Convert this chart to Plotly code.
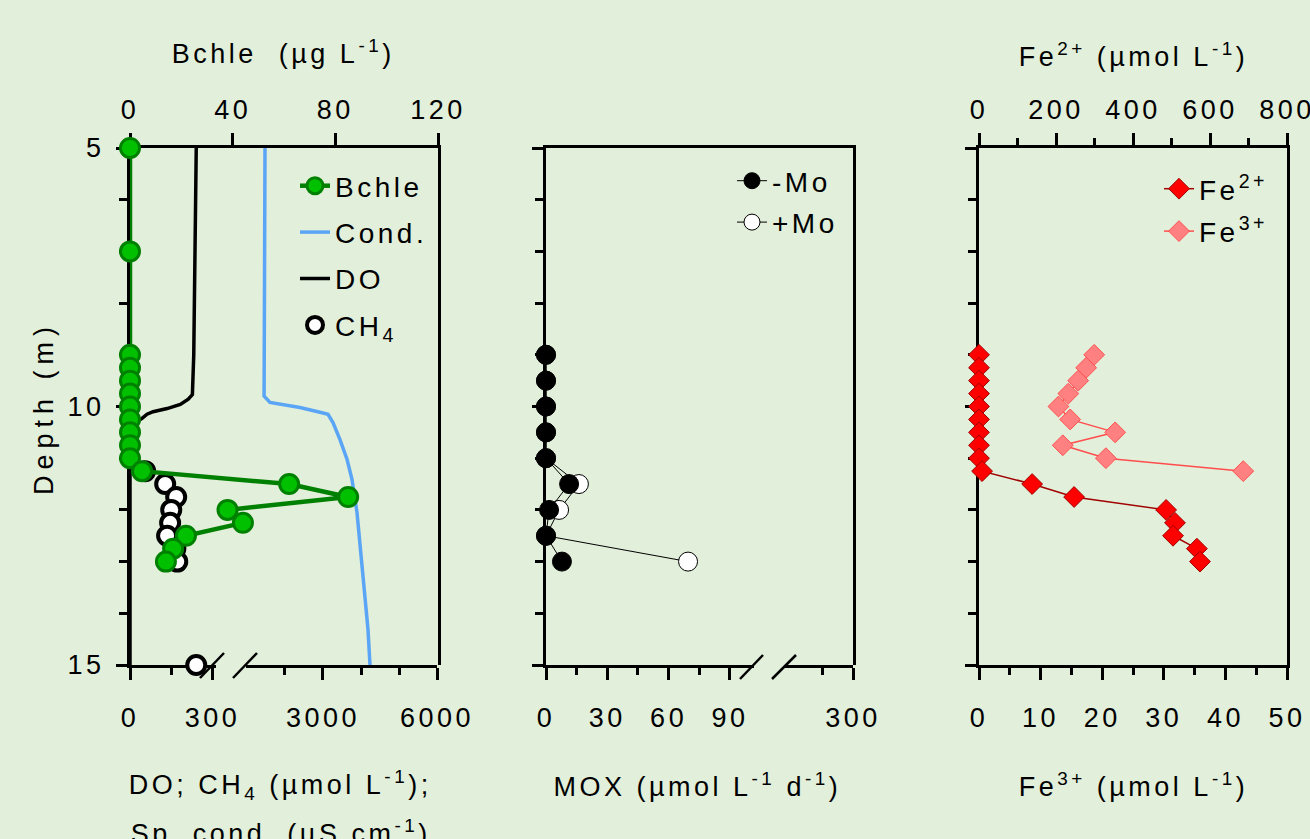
import plotly.graph_objects as go

W, H = 1310, 839
BG = "#e2efda"
FONT = "Liberation Sans, Arial, sans-serif"

# ---------------- Panel 1 data ----------------
bchle_depth = [5.0, 7.0, 9.0, 9.25, 9.5, 9.75, 10.0, 10.25, 10.5, 10.75, 11.0,
               11.25, 11.5, 11.75, 12.0, 12.25, 12.5, 12.75, 13.0]
bchle = [0, 0, 0, 0, 0, 0, 0, 0, 0, 0, 0,
         4.7, 62, 85, 38, 44, 21.8, 16.8, 14]

ch4_depth = [11.25, 11.5, 11.75, 12.0, 12.25, 12.5, 12.75, 13.0, 15.0]
ch4 = [55, 128, 168, 150, 146, 135, 165, 172, 241]

do_depth = [5.0, 7.0, 9.0, 9.77, 9.86, 9.96, 10.04, 10.10, 10.15, 10.23, 10.35, 10.5, 15.0]
do = [241, 238, 232, 227, 212, 183, 135, 84, 62, 44, 7, 0, 0]

cond_depth = [5.0, 9.5, 9.8, 9.92, 10.02, 10.12, 10.15, 10.31, 10.64, 11.02,
              11.41, 12.05, 12.70, 13.34, 13.86, 14.31, 15.0]
cond = [1474, 1430, 1450, 1605, 2395, 2974, 3132, 3263, 3447, 3632,
        3763, 3895, 3974, 4053, 4132, 4184, 4237]

# ---------------- Panel 2 data ----------------
mox_depth = [9.0, 9.5, 10.0, 10.5, 11.0, 11.5, 12.0, 12.5, 13.0]
mox_minus = [0, 0, 0, 0, 0, 11.3, 1.5, 0, 7.8]
mox_plus = [0, 0, 0, 0, 0, 16.1, 6.4, 0, 69.5]

# ---------------- Panel 3 data ----------------
fe2_depth = [9.0, 9.25, 9.5, 9.75, 10.0, 10.25, 10.5, 10.75, 11.0,
             11.25, 11.5, 11.75, 12.0, 12.25, 12.5, 12.75, 13.0]
fe2 = [0, 0, 0, 0, 0, 0, 0, 0, 0, 8, 138, 247, 486, 509, 504, 566, 574]
fe3_depth = [9.0, 9.25, 9.5, 9.75, 10.0, 10.25, 10.5, 10.75, 11.0, 11.25]
fe3 = [18.7, 17.4, 16.1, 14.5, 12.9, 14.8, 22.1, 13.6, 20.6, 42.9]

# tick labels
depth_ticks = [5, 10, 15]
bchle_ticks = [0, 40, 80, 120]
do_ticks = [0, 300]
cond_ticks = [3000, 6000]
mox_ticks = [0, 30, 60, 90]
mox_hi_ticks = [300]
fe2_ticks = [0, 200, 400, 600, 800]
fe3_ticks = [0, 10, 20, 30, 40, 50]


def px(x):
    return x / W


def py(y):
    return 1 - y / H


TOP, BOT = 148, 665
ydom = [py(BOT), py(TOP)]

tickfont = dict(family=FONT, size=27, color="black")


def xax(**kw):
    d = dict(showline=True, linecolor="black", linewidth=3, ticks="outside",
             tickcolor="black", tickwidth=2.5, ticklen=12, showgrid=False,
             zeroline=False, tickfont=tickfont, layer="below traces",
             fixedrange=True, ticklabelstandoff=15)
    d.update(kw)
    return d


def minor(**kw):
    d = dict(ticks="outside", ticklen=7, tickwidth=2.5, tickcolor="black", showgrid=False)
    d.update(kw)
    return d


fig = go.Figure()

# ---- panel 1 traces (DO/CH4 on x, cond on x2, Bchle on x3 drawn on top)
fig.add_trace(go.Scatter(x=do, y=do_depth, mode="lines", name="DO",
                         line=dict(color="black", width=3.5), xaxis="x", yaxis="y",
                         legend="legend", legendrank=3, legendgroup="do",
                         cliponaxis=False))
fig.add_trace(go.Scatter(x=ch4, y=ch4_depth, mode="markers", name="CH<sub>4</sub>",
                         marker=dict(symbol="circle", size=18, color="white",
                                     line=dict(color="black", width=4)),
                         xaxis="x", yaxis="y", legend="legend", legendrank=4,
                         legendgroup="ch4", cliponaxis=False))
fig.add_trace(go.Scatter(x=cond, y=cond_depth, mode="lines", name="Cond.",
                         line=dict(color="#5aa5f5", width=3.5), xaxis="x2", yaxis="y",
                         legend="legend", legendrank=2, legendgroup="cond",
                         cliponaxis=False))
fig.add_trace(go.Scatter(x=bchle, y=bchle_depth, mode="lines+markers", name="Bchle",
                         line=dict(color="#008000", width=4.5),
                         marker=dict(symbol="circle", size=19, color="#00c000",
                                     line=dict(color="#008000", width=3)),
                         xaxis="x3", yaxis="y", legend="legend", legendrank=1,
                         legendgroup="bchle", cliponaxis=False))

# ---- panel 2 traces (+Mo drawn first so -Mo markers sit on top)
fig.add_trace(go.Scatter(x=mox_plus, y=mox_depth, mode="lines+markers", name="+Mo",
                         line=dict(color="black", width=1),
                         marker=dict(symbol="circle", size=19, color="white",
                                     line=dict(color="black", width=1)),
                         xaxis="x4", yaxis="y2", legend="legend2", legendrank=2,
                         legendgroup="m2", cliponaxis=False))
fig.add_trace(go.Scatter(x=mox_minus, y=mox_depth, mode="lines+markers", name="-Mo",
                         line=dict(color="black", width=1),
                         marker=dict(symbol="circle", size=19, color="black",
                                     line=dict(color="black", width=1)),
                         xaxis="x4", yaxis="y2", legend="legend2", legendrank=1,
                         legendgroup="m1", cliponaxis=False))
for ax in ["x5", "x6"]:
    fig.add_trace(go.Scatter(x=[None], y=[None], xaxis=ax, yaxis="y2",
                             showlegend=False, hoverinfo="skip"))

# ---- panel 3 traces
fig.add_trace(go.Scatter(x=fe3, y=fe3_depth, mode="lines+markers", name="Fe<sup>3+</sup>",
                         line=dict(color="#ff4d4d", width=1.5),
                         marker=dict(symbol="diamond", size=16, color="#ff8080",
                                     line=dict(color="#ff5050", width=1)),
                         xaxis="x7", yaxis="y3", legend="legend3", legendrank=2,
                         legendgroup="f3", cliponaxis=False))
fig.add_trace(go.Scatter(x=fe2, y=fe2_depth, mode="lines+markers", name="Fe<sup>2+</sup>",
                         line=dict(color="#a00000", width=1.5),
                         marker=dict(symbol="diamond", size=16, color="#ff0000",
                                     line=dict(color="#a00000", width=1)),
                         xaxis="x8", yaxis="y3", legend="legend3", legendrank=1,
                         legendgroup="f2", cliponaxis=False))

yax_common = dict(range=[15, 5], domain=ydom, showline=True, linecolor="black",
                  linewidth=3, ticks="outside", tickcolor="black", tickwidth=2.5,
                  ticklen=11, showgrid=False, zeroline=False, mirror=True,
                  tickvals=depth_ticks, layer="below traces", fixedrange=True,
                  minor=minor(dtick=1, tick0=5, ticklen=8))

fig.update_layout(
    width=W, height=H, margin=dict(l=0, r=0, t=0, b=0, autoexpand=False),
    paper_bgcolor=BG, plot_bgcolor="rgba(0,0,0,0)",
    font=dict(family=FONT, color="black"),
    # panel 1
    xaxis=xax(domain=[px(130), px(213)], range=[0, 302], anchor="y",
              tickvals=do_ticks, minor=minor(tickvals=[150])),
    xaxis2=xax(domain=[px(246), px(437)], range=[974, 6000], anchor="y",
               tickvals=cond_ticks, minor=minor(tickvals=[2000, 4000, 5000])),
    xaxis3=xax(domain=[px(130), px(438)], range=[0, 120], anchor="y", side="top",
               tickvals=bchle_ticks, ticklabelstandoff=3),
    yaxis=dict(yax_common, anchor="x3", showticklabels=True, tickfont=tickfont,
               ticklabelstandoff=6),
    # panel 2
    xaxis4=xax(domain=[px(546), px(751)], range=[0, 100.3], anchor="y2",
               tickvals=mox_ticks, minor=minor(tickvals=[15, 45, 75])),
    xaxis5=xax(domain=[px(784), px(853)], range=[266.2, 300], anchor="y2",
               tickvals=mox_hi_ticks, minor=minor(tickvals=[285])),
    xaxis6=dict(domain=[px(546), px(853)], range=[0, 1], anchor="y2", side="top",
                showline=True, linecolor="black", linewidth=3, ticks="",
                showticklabels=False, showgrid=False, zeroline=False, fixedrange=True),
    yaxis2=dict(yax_common, anchor="x6", showticklabels=False),
    # panel 3
    xaxis7=xax(domain=[px(979), px(1287)], range=[0, 50], anchor="y3",
               tickvals=fe3_ticks, minor=minor(dtick=5, tick0=0)),
    xaxis8=xax(domain=[px(979), px(1287)], range=[0, 800], anchor="y3", side="top",
               tickvals=fe2_ticks, minor=minor(dtick=100, tick0=0), ticklabelstandoff=3),
    yaxis3=dict(yax_common, anchor="x7", showticklabels=False),
    showlegend=True,
    legend=dict(x=px(295), y=py(161), xanchor="left", yanchor="top",
                bgcolor="rgba(0,0,0,0)", font=dict(family=FONT, size=28),
                tracegroupgap=7, itemsizing="trace"),
    legend2=dict(x=px(732), y=py(156), xanchor="left", yanchor="top",
                 bgcolor="rgba(0,0,0,0)", font=dict(family=FONT, size=28),
                 tracegroupgap=2),
    legend3=dict(x=px(1159), y=py(164), xanchor="left", yanchor="top",
                 bgcolor="rgba(0,0,0,0)", font=dict(family=FONT, size=28),
                 tracegroupgap=3),
)

tfont = dict(family=FONT, size=27, color="black")
annots = [
    ("Bchle  (µg L<sup>-1</sup>)", 283, 52, 0),
    ("DO; CH<sub>4</sub> (µmol L<sup>-1</sup>);", 280, 785, 0),
    ("Sp. cond. (µS cm<sup>-1</sup>)", 280, 832, 0),
    ("Depth (m)", 44, 408, -90),
    ("MOX (µmol L<sup>-1</sup> d<sup>-1</sup>)", 697, 785, 0),
    ("Fe<sup>2+</sup> (µmol L<sup>-1</sup>)", 1133, 55, 0),
    ("Fe<sup>3+</sup> (µmol L<sup>-1</sup>)", 1133, 785, 0),
]
for txt, x, y, ang in annots:
    fig.add_annotation(text=txt, x=px(x), y=py(y), xref="paper", yref="paper",
                       showarrow=False, font=tfont, textangle=ang,
                       xanchor="center", yanchor="middle")

# axis break marks
for (x0, y0, x1, y1) in [(200, 678, 224, 653), (233, 678, 257, 653),
                         (740, 679, 763, 655), (772, 679, 796, 655)]:
    fig.add_shape(type="line", xref="paper", yref="paper",
                  x0=px(x0), y0=py(y0), x1=px(x1), y1=py(y1),
                  line=dict(color="black", width=2.5))

post = """
document.body.style.margin='0';
var gd = document.getElementById('{plot_id}');
gd.querySelectorAll('text').forEach(function(t){
  t.style.letterSpacing = '3.5px';
  if ((t.textContent || '').indexOf('Depth') === 0) { t.style.letterSpacing = '6px'; }
});
gd.querySelectorAll('.infolayer [clip-path]').forEach(function(el){
  el.removeAttribute('clip-path');
});
"""
fig.write_html("out.html", post_script=post, config={"displayModeBar": False})
